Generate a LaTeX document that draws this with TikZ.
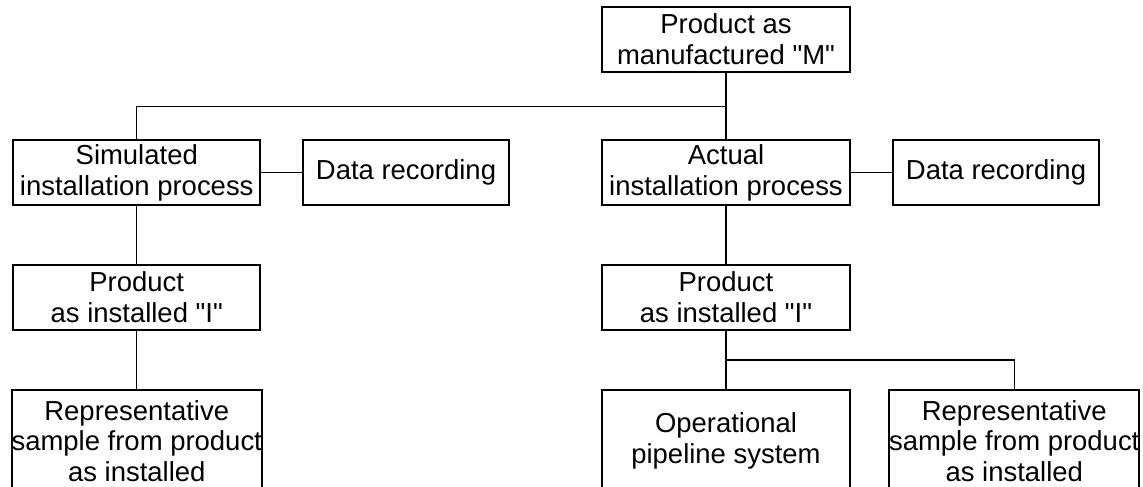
\documentclass[tikz,border=0pt]{standalone}
\usepackage{fontspec}
\newfontfamily\arialfam{Liberation Sans}
\begin{document}
\begin{tikzpicture}[x=0.75pt,y=-0.75pt,
  box/.style={draw=black,line width=1.5pt,fill=white,align=center,inner sep=0pt,
    font=\arialfam\fontsize{20.6}{23}\selectfont,minimum width=185.6pt,minimum height=48.4pt},
  drbox/.style={box,minimum width=154.5pt},
  tallbox/.style={box,minimum height=76.5pt},
  conn/.style={draw=black,line width=0.9pt}]
\useasboundingbox (0,0) rectangle (1143,486);
\node[box] (top) at (726,39.25) {Product as\\manufactured "M"};
\node[box] (sim) at (136.75,172.75) {Simulated\\installation process};
\node[drbox] (dr1) at (406,172.75) {Data recording};
\node[box] (act) at (726,172.75) {Actual\\installation process};
\node[drbox] (dr2) at (996,172.75) {Data recording};
\node[box] (pi1) at (136.75,297.5) {Product\\as installed "I"};
\node[box] (pi2) at (726,297.5) {Product\\as installed "I"};
\node[tallbox] (rep1) at (136.75,441) {Representative\\sample from product\\as installed};
\node[tallbox] (ops) at (726,441) {Operational\\pipeline system};
\node[tallbox,minimum width=181.9pt] (rep2) at (1014.25,441) {Representative\\sample from product\\as installed};
\coordinate (j1) at (726,106.5);
\coordinate (j2) at (726,360);
\draw[conn] (top.south) -- (act.north);
\draw[conn] (sim.north) |- (j1);
\draw[conn] (sim.east) -- (dr1.west);
\draw[conn] (act.east) -- (dr2.west);
\draw[conn] (sim.south) -- (pi1.north);
\draw[conn] (pi1.south) -- (rep1.north);
\draw[conn] (act.south) -- (pi2.north);
\draw[conn] (pi2.south) -- (ops.north);
\draw[conn] (rep2.north) |- (j2);
\end{tikzpicture}
\end{document}
